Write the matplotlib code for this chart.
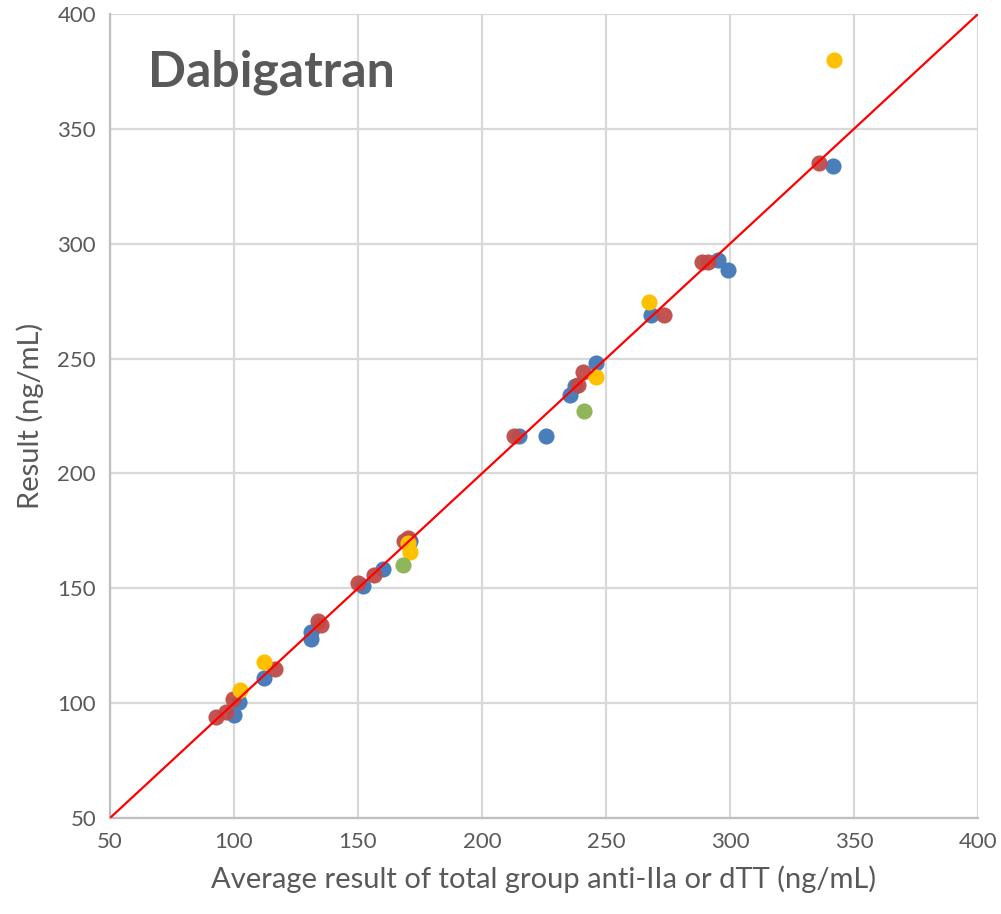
import matplotlib
matplotlib.use("Agg")
import matplotlib.pyplot as plt

plt.rcParams['font.family'] = ['Lato', 'DejaVu Sans']

blue_x = [100, 102, 112, 131, 131, 152, 160, 171, 215, 226, 235.5, 237.5, 246, 268, 295, 299, 341.5]
blue_y = [95, 100.5, 111, 128, 131, 151, 158.5, 170.5, 216.5, 216.5, 234, 238, 248, 269, 293, 288.7, 334]
red_x = [92.7, 96.8, 99.6, 116.5, 134, 135, 150, 156.5, 168.5, 170.2, 213, 238.7, 240.7, 273.5, 288.7, 291, 336]
red_y = [94, 96, 102, 114.8, 135.8, 134.2, 152.3, 156, 170.5, 172, 216.5, 238.5, 244, 269, 292.2, 292.2, 335]
yellow_x = [102.4, 112, 170.2, 171, 246, 267.3, 342]
yellow_y = [105.7, 118, 169.5, 166, 242, 274.8, 380]
green_x = [168.3, 241]
green_y = [160, 227]

ticks = [50, 100, 150, 200, 250, 300, 350, 400]

fig = plt.figure(figsize=(10.01, 9.14), dpi=100)
ax = fig.add_axes([110/1001, 1-818/914, (978-110)/1001, (818-14)/914])

s = 135
ax.scatter(blue_x, blue_y, s=s, color='#4A7EBB', zorder=3, linewidths=0)
ax.scatter(red_x, red_y, s=s, color='#BE4B48', zorder=3, linewidths=0, alpha=0.95)
ax.scatter(yellow_x, yellow_y, s=s, color='#FFC000', zorder=3, linewidths=0)
ax.scatter(green_x, green_y, s=s, color='#8FB65A', zorder=3, linewidths=0)
ax.plot([50, 400], [50, 400], color='#FF0000', lw=1.6, zorder=4)

ax.set_xlim(50, 400)
ax.set_ylim(50, 400)
ax.set_xticks(ticks)
ax.set_yticks(ticks)
ax.grid(True, color='#D9D9D9', lw=1.6, zorder=0)
ax.set_axisbelow(True)
for sp in ['top', 'right']:
    ax.spines[sp].set_visible(False)
for sp in ['left', 'bottom']:
    ax.spines[sp].set_color('#BFBFBF')
    ax.spines[sp].set_linewidth(1.6)
ax.tick_params(length=0, labelsize=16, colors='#595959', pad=10)
ax.set_xlabel('Average result of total group anti-IIa or dTT (ng/mL)', fontsize=21, color='#595959', labelpad=10)
ax.set_ylabel('Result (ng/mL)', fontsize=21, color='#595959', labelpad=10)
ax.text(0.044, 0.927, 'Dabigatran', transform=ax.transAxes, fontsize=36, fontweight='bold',
        color='#595959', ha='left', va='center')

fig.savefig('out.png', dpi=100)
